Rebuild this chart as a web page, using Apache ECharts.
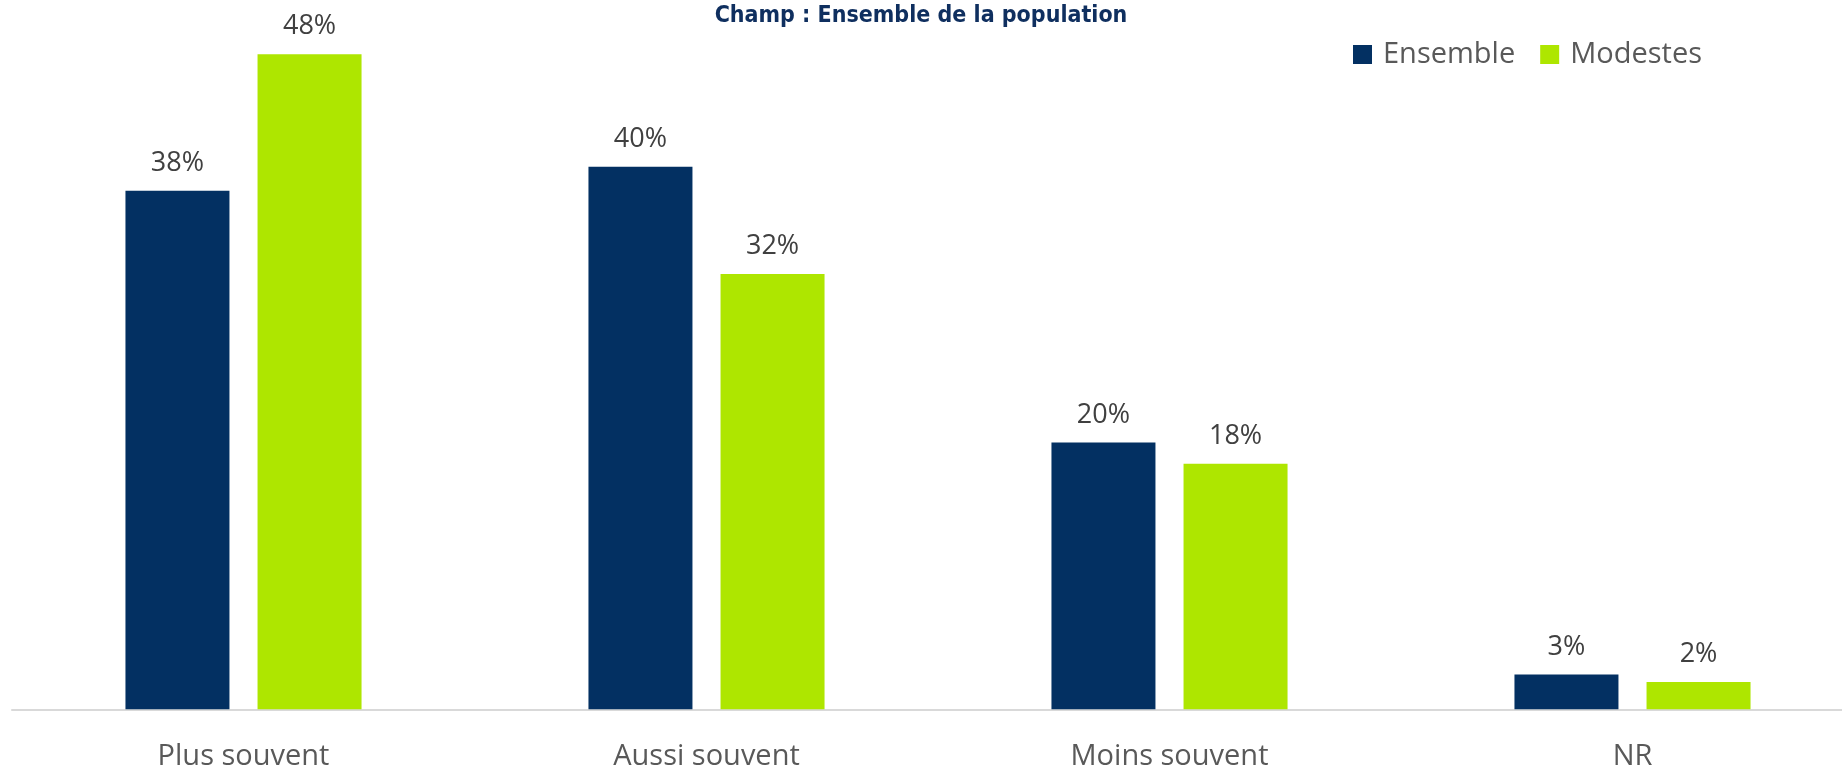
<!DOCTYPE html>
<html>
<head>
<meta charset="utf-8">
<script src="https://cdn.jsdelivr.net/npm/echarts@6/dist/echarts.min.js"></script>
<style>
  html, body { margin: 0; padding: 0; background: #fff; }
  #chart { width: 1842px; height: 768px; }
</style>
</head>
<body>
<div id="chart"></div>
<script>
// valeurs (en %)
const categories = ['Plus souvent', 'Aussi souvent', 'Moins souvent', 'NR']
const ensemble = [38, 39.75, 19.55, 2.55]
const modestes = [48, 31.9, 18, 2]

const labelFont = '"Open Sans", "Noto Sans", sans-serif'

const chart = echarts.init(document.getElementById('chart'))

const barLabel = {
  show: true,
  position: 'top',
  distance: 14,
  color: '#404040',
  fontFamily: labelFont,
  fontSize: 27,
  formatter: (p) => Math.round(p.value) + '%'
}

chart.setOption({
  animation: false,
  title: {
    text: 'Champ : Ensemble de la population',
    left: 'center',
    top: 0,
    textStyle: {
      color: '#0f2f5f',
      fontFamily: '"DejaVu Sans Condensed", "Liberation Sans Narrow", sans-serif',
      fontWeight: 900,
      fontSize: 23
    }
  },
  legend: {
    right: 135,
    top: 35,
    itemWidth: 19,
    itemHeight: 19,
    itemGap: 25,
    icon: 'rect',
    textStyle: {
      color: '#595959',
      fontFamily: labelFont,
      fontSize: 29,
      padding: [0, 0, 0, 6]
    },
    data: ['Ensemble', 'Modestes']
  },
  // the plot runs a little past the right edge, as in the source
  grid: { left: 12, width: 1852, top: 27, bottom: 58.7, outerBoundsMode: 'none' },
  xAxis: {
    type: 'category',
    data: categories,
    axisTick: { show: false },
    axisLine: { lineStyle: { color: '#d9d9d9', width: 2 } },
    axisLabel: {
      color: '#595959',
      fontFamily: labelFont,
      fontSize: 29,
      margin: 33
    }
  },
  yAxis: {
    type: 'value',
    min: 0,
    max: 50,
    show: false
  },
  series: [
    {
      name: 'Ensemble',
      type: 'bar',
      data: ensemble,
      barWidth: 104,
      barGap: '27%',
      itemStyle: { color: '#033062' },
      label: barLabel
    },
    {
      name: 'Modestes',
      type: 'bar',
      data: modestes,
      barWidth: 104,
      itemStyle: { color: '#aee600' },
      label: barLabel
    }
  ]
})
</script>
</body>
</html>
